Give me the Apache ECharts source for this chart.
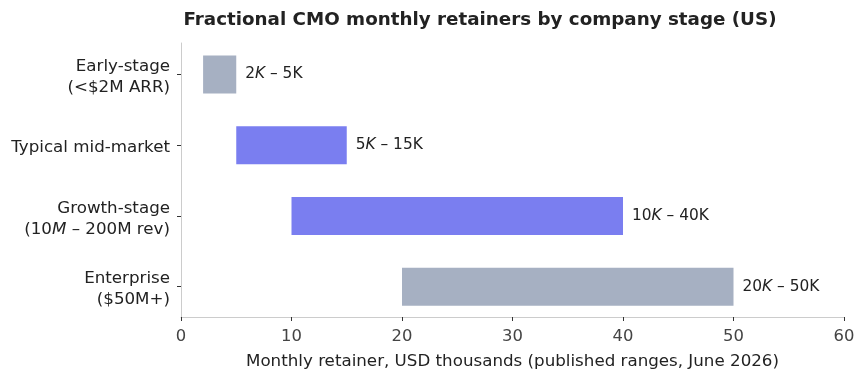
<!DOCTYPE html>
<html>
<head>
<meta charset="utf-8">
<script src="https://cdn.jsdelivr.net/npm/echarts@6/dist/echarts.min.js"></script>
<style>
  html, body { margin: 0; padding: 0; background: #fff; }
  #chart { width: 865px; height: 381px; }
</style>
</head>
<body>
<div id="chart"></div>
<script>
  // data
  var stages = ['Early-stage', 'Typical mid-market', 'Growth-stage', 'Enterprise'];
  var lowK = [2, 5, 10, 20];
  var highK = [5, 15, 40, 50];
  var barColors = ['#a6b0c2', '#7a7ef0', '#7a7ef0', '#a6b0c2'];

  // y labels (matplotlib mathtext quirk kept: italic letter after first $)
  var stageLabels = [
    '{n|Early-stage}\n{n|(<$2M ARR)}',
    '{n|Typical mid-market}',
    '{n|Growth-stage}\n{n|(10}{i|M}{n| – 200M rev)}',
    '{n|Enterprise}\n{n|($50M+)}'
  ];

  var chart = echarts.init(document.getElementById('chart'));
  var font = 'DejaVu Sans';
  var spans = highK.map(function (h, i) { return h - lowK[i]; });

  var option = {
    animation: false,
    textStyle: { fontFamily: font },
    title: {
      text: 'Fractional CMO monthly retainers by company stage (US)',
      left: 475, top: 6, textAlign: 'center',
      textStyle: { fontFamily: font, fontSize: 18.3, fontWeight: 'bold', color: '#222' }
    },
    grid: [
      // bars: category bands sized like matplotlib's margins
      { left: 181, right: 21, top: 39, bottom: 59 },
      // axis frame
      { left: 181, right: 21, top: 43, bottom: 64 }
    ],
    xAxis: [
      {
        gridIndex: 0, type: 'value', min: 0, max: 60, show: false
      },
      {
        gridIndex: 1, type: 'value', min: 0, max: 60, interval: 10,
        name: 'Monthly retainer, USD thousands (published ranges, June 2026)',
        nameLocation: 'middle', nameGap: 36,
        nameTextStyle: { fontFamily: font, fontSize: 16.7, color: '#222' },
        axisLine: { show: true, lineStyle: { color: '#cccccc' } },
        axisTick: { show: true, length: 4, lineStyle: { color: '#333' } },
        axisLabel: { fontFamily: font, fontSize: 16.4, color: '#444', margin: 12 },
        splitLine: { show: false }
      }
    ],
    yAxis: [
      {
        gridIndex: 0, type: 'category', data: stages, inverse: true,
        axisLine: { show: false },
        axisTick: { show: true, length: 4, alignWithLabel: true, lineStyle: { color: '#333' } },
        axisLabel: {
          margin: 11, align: 'right', padding: [6, 0, 0, 0],
          formatter: function (v, idx) { return stageLabels[idx]; },
          rich: {
            n: { fontFamily: font, fontSize: 16.7, color: '#222', lineHeight: 21 },
            i: { fontFamily: font, fontSize: 16.7, color: '#222', fontStyle: 'italic', lineHeight: 21 }
          }
        }
      },
      {
        gridIndex: 1, type: 'value', min: 0, max: 1,
        axisLine: { show: true, lineStyle: { color: '#cccccc' } },
        axisTick: { show: false }, axisLabel: { show: false }, splitLine: { show: false }
      }
    ],
    series: [
      {
        type: 'bar', stack: 'r', barWidth: 38, xAxisIndex: 0, yAxisIndex: 0,
        itemStyle: { color: 'transparent' },
        data: lowK,
        silent: true
      },
      {
        type: 'bar', stack: 'r', barWidth: 38, xAxisIndex: 0, yAxisIndex: 0,
        data: spans.map(function (s, i) {
          return { value: s, itemStyle: { color: barColors[i] } };
        }),
        label: {
          show: true, position: 'right', distance: 9,
          formatter: function (p) {
            var i = p.dataIndex;
            return '{n|' + lowK[i] + '}{i|K}{n| – ' + highK[i] + 'K}';
          },
          rich: {
            n: { fontFamily: font, fontSize: 15.4, color: '#222' },
            i: { fontFamily: font, fontSize: 15.4, color: '#222', fontStyle: 'italic' }
          }
        }
      }
    ]
  };
  chart.setOption(option);
</script>
</body>
</html>
